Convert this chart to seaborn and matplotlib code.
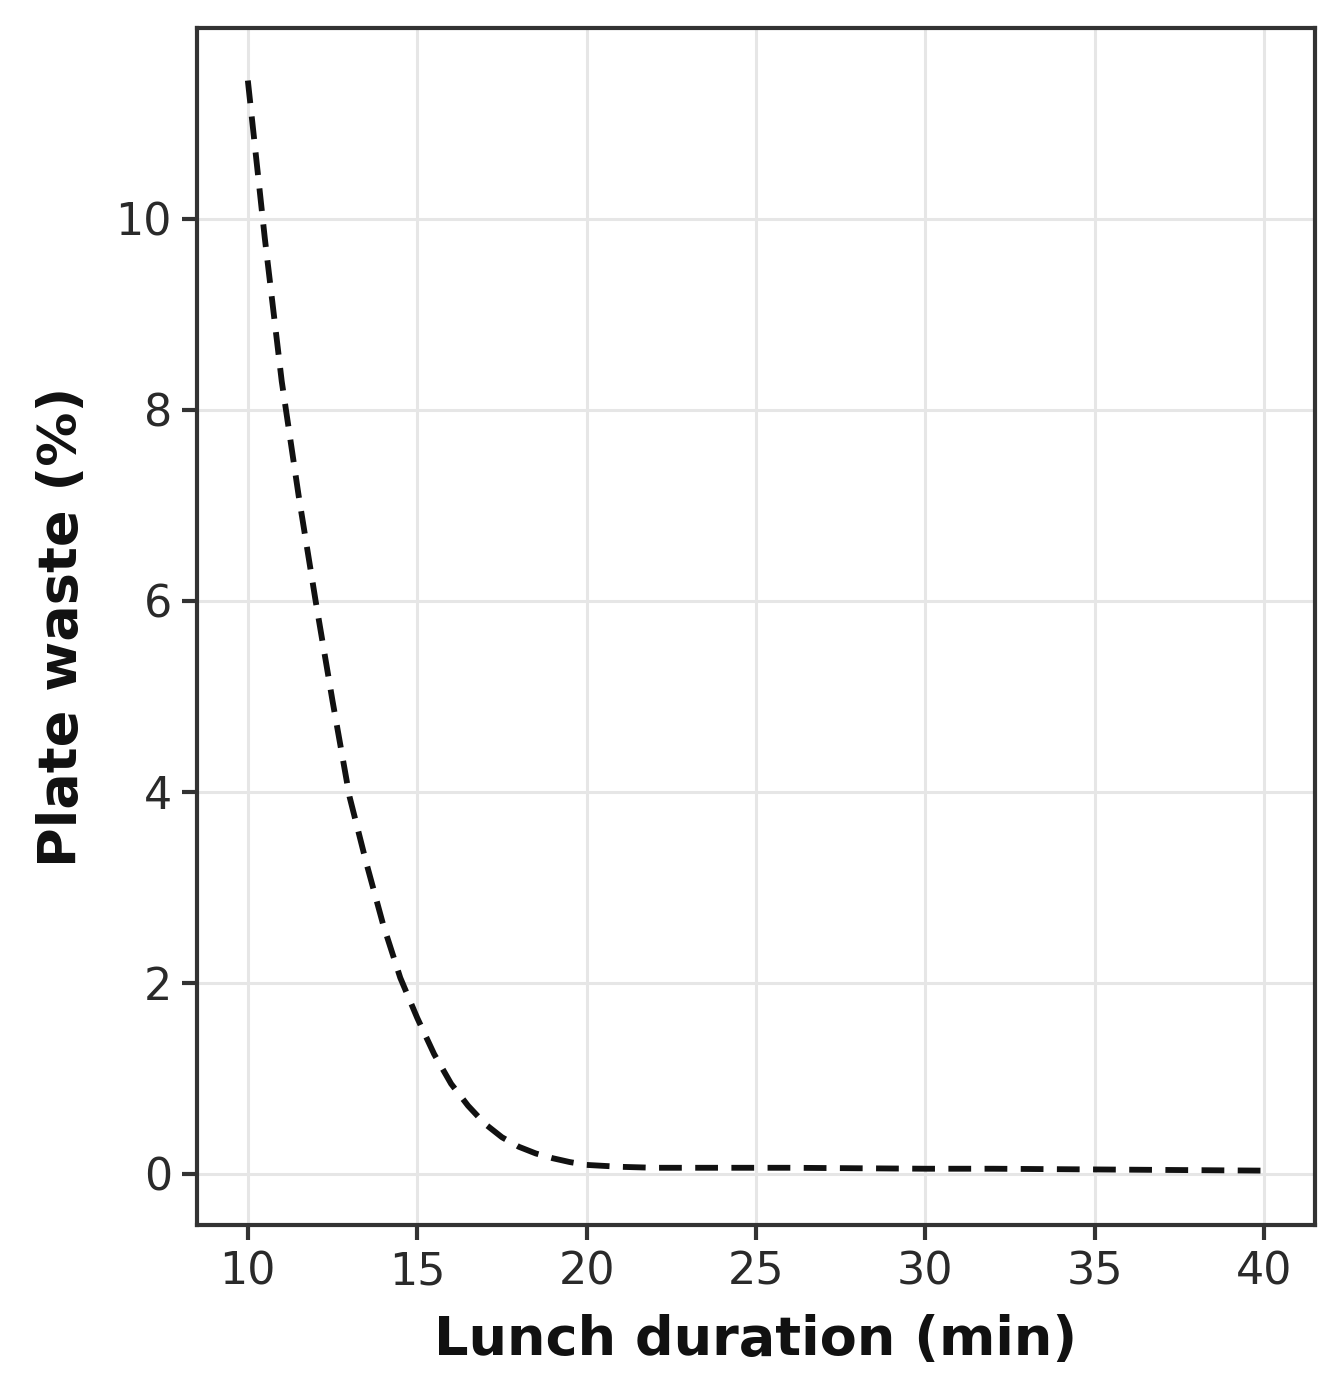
import numpy as np
import pandas as pd
import seaborn as sns
import matplotlib
matplotlib.use('Agg')
import matplotlib.pyplot as plt

# values
duration = [10, 10.5, 11, 11.5, 12, 12.5, 13, 13.5, 14, 14.5, 15, 15.5, 16, 16.5, 17, 17.5,
            18, 18.5, 19, 19.5, 20, 21, 22, 24, 26, 28, 30, 32, 34, 36, 38, 40]
waste = [11.45, 9.8, 8.3, 7.1, 6.0, 4.95, 3.95, 3.25, 2.6, 2.05, 1.63, 1.25, 0.94, 0.71, 0.52, 0.38,
         0.28, 0.21, 0.16, 0.12, 0.09, 0.07, 0.06, 0.06, 0.06, 0.055, 0.05, 0.05, 0.045, 0.04, 0.035, 0.03]
xticks = [10, 15, 20, 25, 30, 35, 40]
yticks = [0, 2, 4, 6, 8, 10]

df = pd.DataFrame({'duration': duration, 'waste': waste})

sns.set_style('ticks')
plt.rcParams['font.family'] = ['DejaVu Sans']

fig = plt.figure(figsize=(13.44, 13.88), dpi=100)
ax = fig.add_axes([0.1466, 0.1174, 0.8318, 0.8624])

sns.lineplot(data=df, x='duration', y='waste', ax=ax, color='#111111',
             linewidth=4.2, linestyle=(0, (3.9, 2.3)))

ax.set_xticks(xticks)
ax.set_yticks(yticks)
ax.set_xlim(8.5, 41.5)
ax.set_ylim(-0.54, 12.0)

ax.grid(True, color='#e6e6e6', linewidth=2.2)
ax.set_axisbelow(True)
for s in ax.spines.values():
    s.set_visible(True)
    s.set_color('#333333')
    s.set_linewidth(3)

ax.tick_params(axis='both', which='major', labelsize=32, length=11, width=3,
               direction='out', color='#333333', labelcolor='#2a2a2a', pad=7)
for t in ax.xaxis.get_major_ticks() + ax.yaxis.get_major_ticks():
    t.tick1line.set_visible(True)
    t.tick1line.set_markeredgecolor('#333333')
    t.tick1line.set_markeredgewidth(3)
    t.tick1line.set_markersize(11)

ax.set_xlabel('Lunch duration (min)', fontsize=39, fontweight='bold', labelpad=15,
              color='#111111')
ax.set_ylabel('Plate waste (%)', fontsize=39, fontweight='bold', labelpad=20,
              color='#111111')

fig.savefig('out.png', dpi=100)
